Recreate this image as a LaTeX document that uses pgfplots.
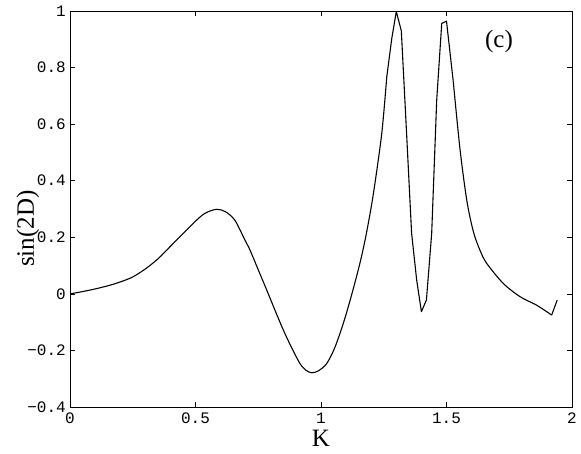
\documentclass[border=0pt]{standalone}
\usepackage{fontspec}
\setmainfont{Liberation Serif}
\newfontfamily\tickfont{Liberation Mono}
\usepackage{pgfplots}
\pgfplotsset{compat=1.18}
\begin{document}
\begin{tikzpicture}
\begin{axis}[
  name=ax,
  scale only axis,
  width=502pt, height=396pt,
  xmin=0, xmax=2, ymin=-0.4, ymax=1,
  xtick={0,0.5,1,1.5,2},
  xticklabels={0,0.5,1,1.5,2},
  ytick={-0.4,-0.2,0,0.2,0.4,0.6,0.8,1},
  yticklabels={−0.4,−0.2,0,0.2,0.4,0.6,0.8,1},
  tick align=inside,
  major tick length=5.5pt,
  tick style={black, line width=0.5pt},
  axis line style={line width=0.8pt},
  ticklabel style={font=\tickfont\fontsize{16}{16}\selectfont},
  yticklabel style={anchor=east, inner sep=0pt, xshift=-4pt},
  xticklabel style={anchor=north, inner sep=0pt, yshift=-6pt},
  xlabel={K},
  ylabel={sin(2D)},
  label style={font=\fontsize{25}{25}\selectfont},
  xlabel style={at={(axis description cs:0.5,-0.101)}, anchor=base},
  ylabel style={at={(axis description cs:-0.072,0.45)}, anchor=base, rotate=0},
  clip=false,
]
\addplot[black, line width=1.1pt, smooth, tension=0.5] coordinates {
(0,0)
(0.05,0.008)
(0.113,0.02)
(0.18,0.036)
(0.246,0.058)
(0.30,0.088)
(0.352,0.125)
(0.40,0.168)
(0.458,0.22)
(0.50,0.257)
(0.538,0.285)
(0.584,0.299)
(0.62,0.29)
(0.657,0.26)
(0.697,0.19)
(0.717,0.155)
(0.75,0.085)
(0.784,0.013)
(0.82,-0.065)
(0.850,-0.128)
(0.88,-0.185)
(0.916,-0.246)
(0.94,-0.27)
(0.963,-0.279)
(0.99,-0.272)
(1.023,-0.246)
(1.055,-0.19)
(1.089,-0.104)
(1.12,-0.01)
(1.155,0.108)
(1.18,0.21)
(1.208,0.35)
(1.242,0.567)
(1.262,0.767)
};
\addplot[black, line width=1.1pt, line join=round] coordinates {
(1.262,0.767)
(1.282,0.903)
(1.30,0.998)
(1.32,0.93)
(1.341,0.567)
(1.361,0.214)
(1.381,0.05)
(1.40,-0.063)
(1.42,-0.022)
(1.441,0.214)
(1.461,0.685)
(1.481,0.956)
(1.50,0.964)
(1.527,0.75)
};
\addplot[black, line width=1.1pt, smooth, tension=0.5] coordinates {
(1.527,0.75)
(1.554,0.51)
(1.581,0.33)
(1.607,0.22)
(1.633,0.155)
(1.66,0.108)
(1.726,0.037)
(1.793,-0.01)
(1.859,-0.04)
(1.919,-0.075)
};
\addplot[black, line width=1.1pt] coordinates {
(1.919,-0.075)
(1.941,-0.022)
};
\node[font=\fontsize{25}{25}\selectfont] at (axis cs:1.709,0.892) {(c)};
\end{axis}
\path ([xshift=-70pt,yshift=-46pt]ax.south west) rectangle ([xshift=9pt,yshift=11pt]ax.north east);
\end{tikzpicture}
\end{document}
